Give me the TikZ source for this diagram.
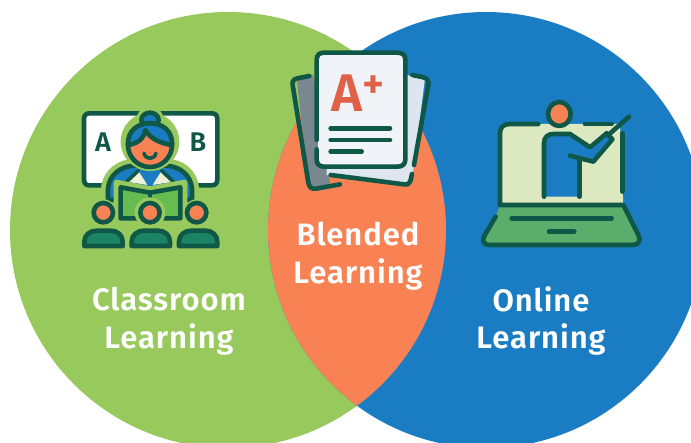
\documentclass[tikz,border=0pt]{standalone}
\usepackage{fontspec}
\setmainfont{Fira Sans}[LetterSpace=3,BoldFont={Fira Sans SemiBold}]
\usetikzlibrary{calc}
\definecolor{cgreen}{HTML}{97C95C}
\definecolor{cblue}{HTML}{1A7DC4}
\definecolor{corange}{HTML}{F98255}
\definecolor{dteal}{HTML}{0F5746}
\definecolor{mteal}{HTML}{1C8465}
\definecolor{bookg}{HTML}{66BC50}
\definecolor{lapg}{HTML}{5BAD6C}
\definecolor{screeng}{HTML}{DCE9C0}
\definecolor{paper}{HTML}{F0F4F8}
\definecolor{paperb}{HTML}{DDE5EE}
\definecolor{paperd}{HTML}{7A8791}
\definecolor{gradec}{HTML}{DF6248}
\definecolor{cream}{HTML}{EEF0D8}
\tikzset{
  ln/.style={draw=dteal,line width=4.6pt,line cap=round,line join=round},
  thin ln/.style={draw=dteal,line width=3.6pt,line cap=round,line join=round},
  label/.style={text=white,font=\fontsize{31}{37.5}\selectfont\bfseries,align=center},
  letter/.style={text=dteal,font=\fontsize{27}{27}\selectfont\bfseries},
}
\begin{document}
\begin{tikzpicture}[x=1pt,y=-1pt]
\useasboundingbox (0,0) rectangle (691,443);
\fill[white] (0,0) rectangle (691,443);
\path[clip] (0,0) rectangle (691,443);
% circles
\fill[cgreen] (228,230) circle[radius=218];
\fill[cblue] (486,230) circle[radius=218];
\begin{scope}
  \clip (228,230) circle[radius=218];
  \fill[corange] (486,230) circle[radius=218];
\end{scope}
% --- classroom icon
\begin{scope}[shift={(70,100)},scale=1/3]
  \draw[ln,fill=white] (58,40) -- (425,40) .. controls (436,40) and (442,46) .. (442,57) -- (442,238) .. controls (442,250) and (436,256) .. (425,256) -- (58,256) .. controls (48,256) and (42,250) .. (42,238) -- (42,57) .. controls (42,46) and (48,40) .. (58,40) -- cycle;
  % body
  \path[fill=cgreen,draw=cgreen,line width=6pt,line join=round] (102,310) -- (102,265) .. controls (108,212) and (150,188) .. (190,185) -- (290,185) .. controls (335,188) and (372,212) .. (378,265) -- (378,310) -- cycle;
  \path[ln,fill=cblue] (114,300) -- (114,265) .. controls (118,225) and (150,200) .. (190,197) -- (290,197) .. controls (330,200) and (362,225) .. (366,265) -- (366,300) -- cycle;
  \fill[cream] (170,245) -- (205,212) -- (232,255) -- cycle;
  \fill[cream] (310,245) -- (275,212) -- (248,255) -- cycle;
  \draw[thin ln] (170,245) -- (205,212);
  \draw[thin ln] (310,245) -- (275,212);
  % head
  \fill[cgreen] (240,125) circle[radius=88];
  \fill[cgreen] (240,58) circle[radius=40];
  \draw[ln,fill=cblue] (240,60) ellipse[x radius=26,y radius=22];
  \draw[ln,fill=corange] (240,135) circle[radius=66];
  \draw[ln,fill=cblue] (174,135) .. controls (172,90) and (205,70) .. (240,70) .. controls (275,70) and (308,90) .. (306,135) .. controls (270,130) and (240,115) .. (226,90) .. controls (222,115) and (205,130) .. (174,135) -- cycle;
  \draw[thin ln] (222,160) .. controls (228,180) and (252,180) .. (258,160);
  % book
  \path[fill=cgreen,draw=cgreen,line width=6pt,line join=round] (140,248) -- (240,268) -- (343,248) -- (343,368) -- (140,368) -- cycle;
  \draw[ln,fill=bookg] (152,262) -- (240,278) -- (331,262) -- (331,355) -- (152,355) -- cycle;
  \draw[thin ln] (240,278) -- (240,296);
  % students
  \fill[cgreen] (240,338) circle[radius=46];
  \fill[cgreen] (100,338) circle[radius=40];
  \fill[cgreen] (380,338) circle[radius=40];
  \draw[ln,fill=corange] (100,338) circle[radius=29];
  \draw[ln,fill=corange] (240,338) circle[radius=29];
  \draw[ln,fill=corange] (380,338) circle[radius=29];
  \foreach \xx in {0,142,284}{
    \draw[ln,fill=mteal,xshift=\xx*1pt] (43,438) -- (43,425) .. controls (43,405) and (60,392) .. (80,392) -- (122,392) .. controls (142,392) and (158,405) .. (158,425) -- (158,438) -- cycle;
  }
\end{scope}
\node[letter] (letterA) at (103,142) {A};
\node[letter] (letterB) at (198,142) {B};
% --- papers icon
\begin{scope}[shift={(280,40)},scale=1/3]
  \fill[paperd] (50,115) -- (100,105) -- (150,430) -- (100,447) -- (85,430) -- cycle;
  \draw[ln] (88,108) -- (52,115) .. controls (40,118) and (36,125) .. (38,135) -- (85,428) .. controls (88,442) and (95,448) .. (108,446) -- (180,433);
  \fill[paperb] (380,105) -- (435,115) -- (395,430) -- (140,405) -- (140,370) -- cycle;
  \draw[ln] (397,105) -- (430,112) .. controls (442,115) and (447,122) .. (445,135) -- (402,375);
  \draw[ln] (396,402) -- (392,420) .. controls (388,432) and (382,435) .. (372,433) -- (152,405);
  \fill[paper] (115,40) rectangle (372,378);
  \draw[ln] (110,300) -- (110,60) .. controls (110,45) and (118,38) .. (132,38) -- (352,38) .. controls (368,38) and (376,45) .. (376,60) -- (376,358) .. controls (376,372) and (368,380) .. (352,380) -- (132,380) .. controls (118,380) and (110,372) .. (110,358) -- (110,328);
  \draw[ln] (152,265) -- (330,265);
  \draw[ln] (152,300) -- (330,300);
  \draw[ln] (152,335) -- (245,335);
\end{scope}
\node[text=gradec,anchor=base,font=\fontsize{53}{53}\selectfont\addfontfeatures{LetterSpace=0}\bfseries] (grade) at (358,112) {A\raisebox{13pt}{\fontsize{42}{42}\selectfont\bfseries +}};
% --- laptop icon
\begin{scope}[shift={(475,90)},scale=1/3]
  \fill[screeng] (80,102) -- (435,102) -- (445,345) -- (75,345) -- cycle;
  \draw[ln,fill=lapg] (62,380) -- (28,438) .. controls (18,455) and (28,465) .. (45,465) -- (472,465) .. controls (490,465) and (500,452) .. (490,435) -- (445,345) -- (75,345);
  \draw[ln] (190,102) -- (105,102) .. controls (85,102) and (75,112) .. (75,130) -- (75,345);
  \draw[ln] (330,102) -- (410,102);
  \draw[ln] (442,130) -- (442,305);
  \draw[ln] (110,385) -- (410,385);
  \draw[ln] (222,425) -- (298,425);
  \fill[cblue] (207,320) -- (207,160) .. controls (207,140) and (220,132) .. (235,132) -- (285,132) -- (345,172) -- (400,130) -- (415,150) -- (355,215) -- (313,207) -- (313,320) -- cycle;
  \draw[ln] (207,320) -- (207,160) .. controls (207,140) and (220,132) .. (235,132) -- (285,132) -- (345,172) -- (395,130);
  \draw[ln] (395,130) -- (412,148) -- (355,215) -- (285,197);
  \draw[ln] (313,207) -- (313,320);
  \draw[ln] (400,135) -- (462,80);
  \draw[ln,fill=corange] (253,72) ellipse[x radius=34,y radius=36];
\end{scope}
% labels
\node[label] (classroom) at (169,321) {Classroom\\Learning};
\node[label] (blended) at (358,256) {Blended\\Learning};
\node[label] (online) at (541,321) {Online\\Learning};
\end{tikzpicture}
\end{document}
